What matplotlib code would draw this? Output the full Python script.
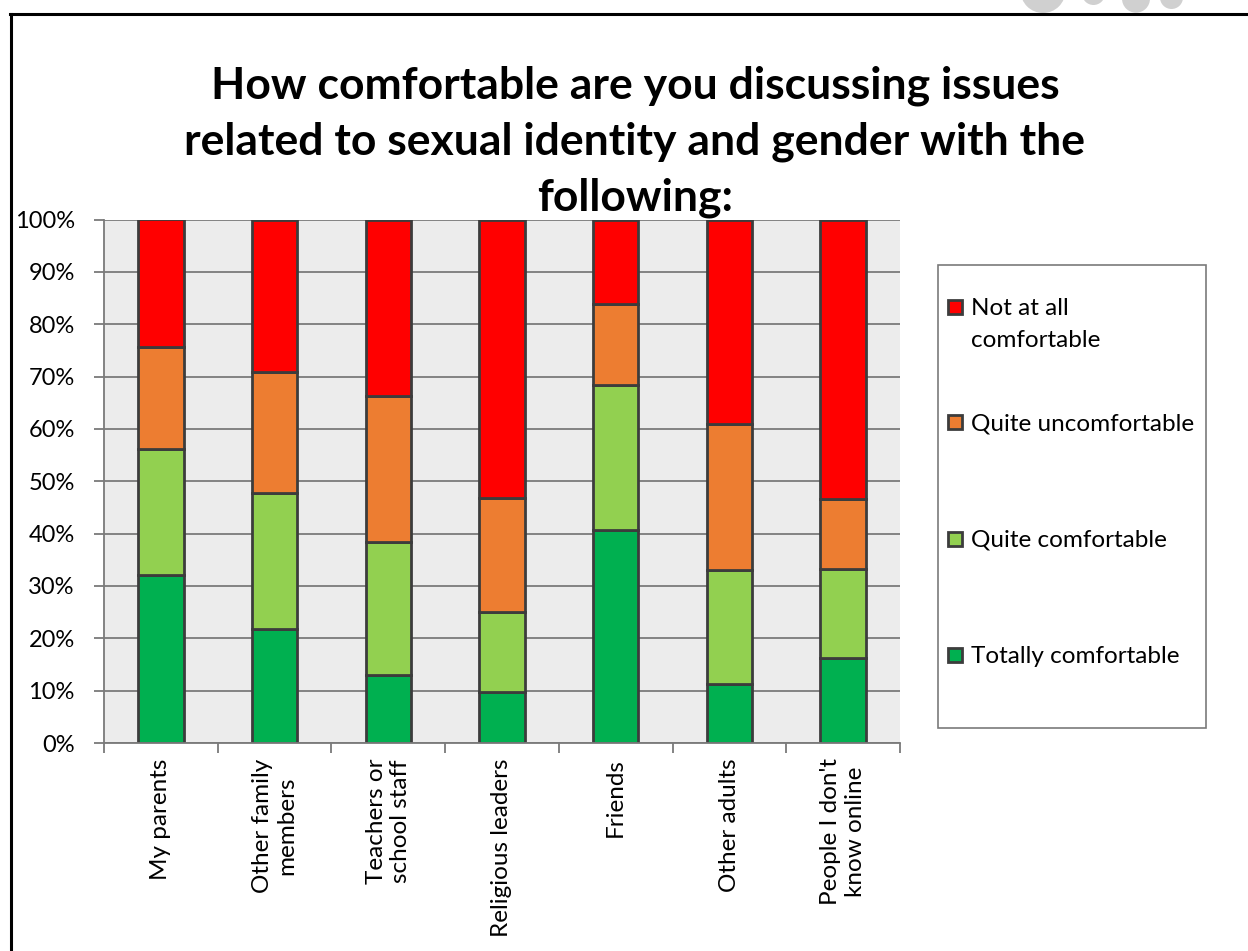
import matplotlib
matplotlib.use("Agg")
import matplotlib.pyplot as plt
from matplotlib.patches import Rectangle, Ellipse
from matplotlib.lines import Line2D
from matplotlib.ticker import FixedLocator, FuncFormatter
import numpy as np

plt.rcParams['font.family'] = ['Lato', 'DejaVu Sans']

categories = ["My parents", "Other family\nmembers", "Teachers or\nschool staff",
              "Religious leaders", "Friends", "Other adults", "People I don't\nknow online"]

# Share of respondents (%) in each comfort level, bottom to top of each stack
totally_comfortable = [32.1, 21.8, 13.0, 9.7, 40.7, 11.3, 16.2]
quite_comfortable = [24.1, 25.9, 25.3, 15.4, 27.6, 21.8, 17.1]
quite_uncomfortable = [19.5, 23.1, 27.9, 21.7, 15.5, 27.8, 13.4]
not_at_all_comfortable = [24.3, 29.2, 33.8, 53.2, 16.2, 39.1, 53.3]

series_names = ["Totally comfortable", "Quite comfortable",
                "Quite uncomfortable", "Not at all\ncomfortable"]
series_values = [totally_comfortable, quite_comfortable,
                 quite_uncomfortable, not_at_all_comfortable]
series_colors = ["#00b050", "#92d050", "#ed7d31", "#ff0000"]

title = ("How comfortable are you discussing issues\n"
         "related to sexual identity and gender with the\n"
         "following:")

W, H = 1248, 951
fig = plt.figure(figsize=(W / 100, H / 100), dpi=100)

def fx(px):
    return px / W

def fy(py):
    return 1 - py / H

ax = fig.add_axes([fx(104), fy(743), fx(900) - fx(104), fy(219.5) - fy(743)])
ax.set_facecolor("#ececec")

x = np.arange(len(categories))
bottom = np.zeros(len(categories))
for vals, name, color in zip(series_values, series_names, series_colors):
    v = np.array(vals) / 100.0
    ax.bar(x, v, width=0.4, bottom=bottom, color=color, edgecolor="#3c3c3c",
           linewidth=2.0, label=name, zorder=3)
    bottom += v

ax.set_xlim(-0.5, len(categories) - 0.5)
ax.set_ylim(0, 1)

grid_col = "#7a7a7a"
ax.yaxis.set_major_locator(FixedLocator(np.linspace(0, 1, 11)))
ax.yaxis.set_major_formatter(FuncFormatter(lambda v, p: f"{v * 100:.0f}%"))
ax.grid(axis="y", color=grid_col, linewidth=1.3, zorder=1)
ax.grid(axis="x", visible=False)

ax.xaxis.set_major_locator(FixedLocator(np.arange(-0.5, len(categories), 1.0)))
ax.xaxis.set_major_formatter(FuncFormatter(lambda v, p: ""))
ax.xaxis.set_minor_locator(FixedLocator(x))
ax.set_xticklabels(categories, minor=True, rotation=90, ha="center", va="top",
                   multialignment="center")
ax.tick_params(axis="x", which="major", length=7, color=grid_col, width=1.3, direction="out")
ax.tick_params(axis="x", which="minor", length=0, pad=11, labelsize=17.5, labelcolor="#000000")
ax.tick_params(axis="y", which="major", length=7, color=grid_col, width=1.3,
               pad=14, labelsize=17, labelcolor="#000000")

for s in ["top", "right"]:
    ax.spines[s].set_visible(False)
for s in ["left", "bottom"]:
    ax.spines[s].set_color(grid_col)
    ax.spines[s].set_linewidth(1.3)
    ax.spines[s].set_zorder(4)

fig.text(fx(635), fy(65), title, ha="center", va="top", fontsize=32,
         fontweight="bold", linespacing=1.47)

# Legend box drawn in figure space
fig.patches.append(Rectangle((fx(938), fy(728)), fx(1206) - fx(938), fy(265) - fy(728),
                             transform=fig.transFigure, facecolor="white",
                             edgecolor=grid_col, linewidth=1.2))
legend_rows = [307, 422, 539, 655]
order = [3, 2, 1, 0]
for row_y, idx in zip(legend_rows, order):
    fig.patches.append(Rectangle((fx(948), fy(row_y + 7)), fx(14), 14 / H,
                                 transform=fig.transFigure, facecolor=series_colors[idx],
                                 edgecolor="#3c3c3c", linewidth=2.0))
    fig.text(fx(971), fy(row_y - 9), series_names[idx], ha="left", va="top",
             fontsize=17.5, linespacing=1.66)

# Page frame and the edge of the logo above it
for cx, cy, r in [(1043, -9.5, 22.5), (1093.5, -6.5, 11.5), (1136, -1.3, 14), (1171.5, -2.5, 11.5)]:
    fig.patches.append(Ellipse((fx(cx), fy(cy)), 2 * r / W, 2 * r / H,
                               transform=fig.transFigure, facecolor="#d0d0d0",
                               edgecolor="none"))
fig.lines.append(Line2D([fx(10), 1], [fy(14.3), fy(14.3)], transform=fig.transFigure,
                        color="black", linewidth=2.2))
fig.lines.append(Line2D([fx(11), fx(11)], [0, fy(14.3)], transform=fig.transFigure,
                        color="black", linewidth=2.2))

fig.savefig("out.png", dpi=100, facecolor="white")
